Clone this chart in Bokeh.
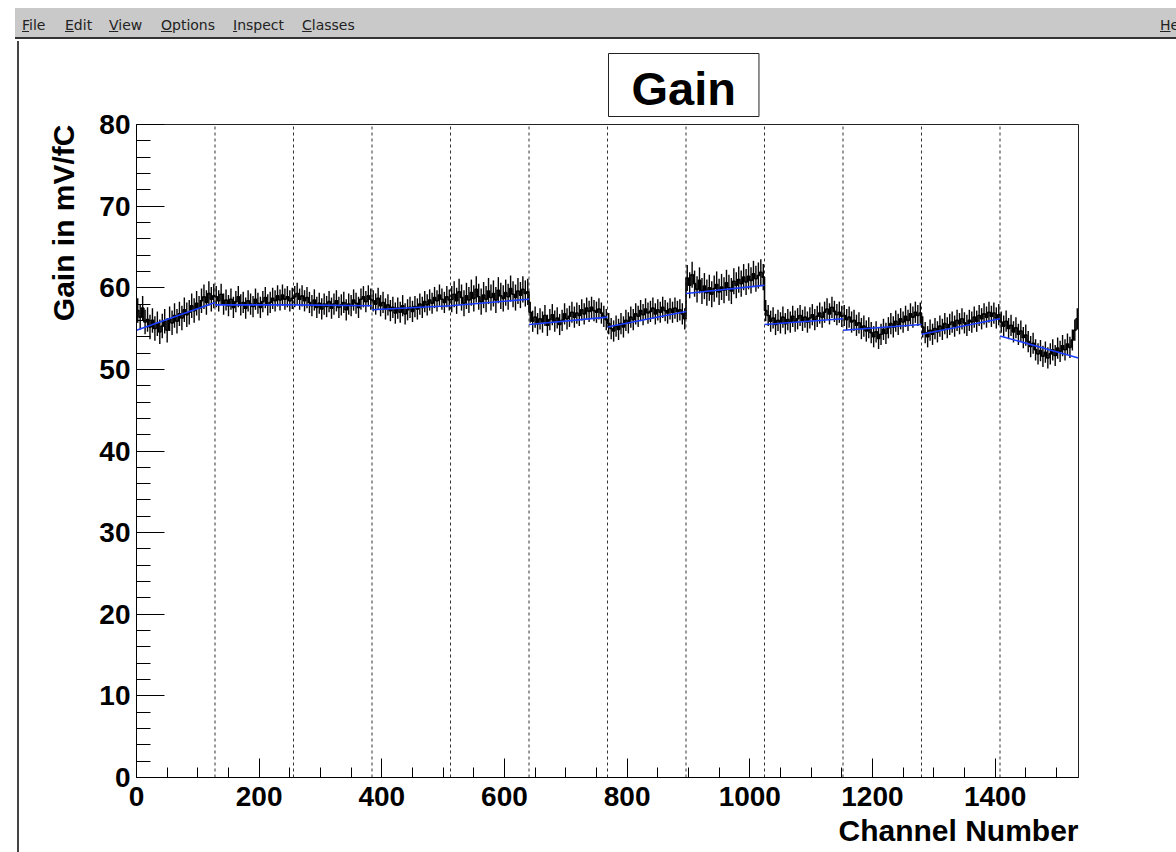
import numpy as np
from bokeh.plotting import figure
from bokeh.models import Range1d, FixedTicker, Title, Div
from bokeh.layouts import column, row
from bokeh.embed import file_html
from bokeh.resources import INLINE

# ---------------- data ----------------
channels_per_bin = 4
segment_edges = [0, 128, 256, 384, 512, 640, 768, 896, 1024, 1152, 1280, 1408, 1536]

seg01 = [57.2, 56.4, 57.5, 55.8, 56.1, 55.2, 56.0, 55.0, 55.6, 54.6, 55.3, 55.9, 54.8, 56.2, 55.7, 56.6,
         55.9, 56.8, 56.3, 57.3, 56.7, 57.0, 57.8, 57.2, 58.1, 57.5, 58.4, 58.9, 58.2, 59.3, 58.6, 59.0]
seg02 = [58.9, 58.4, 59.2, 58.0, 58.5, 57.8, 58.6, 57.6, 58.3, 58.9, 57.9, 58.2, 57.5, 58.4, 58.0, 57.7,
         58.6, 58.1, 57.6, 58.3, 58.8, 57.9, 58.2, 58.7, 58.4, 59.0, 58.5, 59.1, 58.6, 58.9, 58.4, 58.7]
seg03 = [58.9, 59.3, 58.6, 59.0, 58.4, 58.8, 58.2, 57.8, 58.5, 57.6, 58.1, 57.4, 58.0, 57.7, 58.3, 57.5,
         58.0, 58.4, 57.6, 57.9, 58.2, 57.3, 58.0, 57.8, 58.5, 58.1, 57.6, 58.6, 58.9, 58.3, 59.0, 58.6]
seg04 = [58.4, 58.0, 58.7, 57.8, 58.2, 57.4, 57.9, 57.2, 57.6, 56.9, 57.5, 57.0, 57.8, 56.8, 57.3, 57.6,
         57.1, 57.7, 57.4, 58.0, 57.6, 58.3, 57.9, 58.5, 58.1, 58.8, 58.4, 59.1, 58.6, 58.2, 58.9, 58.5]
seg05 = [58.6, 59.2, 58.4, 59.5, 58.8, 58.1, 59.0, 58.5, 59.4, 58.7, 59.8, 58.9, 58.3, 59.1, 58.6, 59.6,
         58.8, 59.3, 58.5, 59.7, 59.0, 58.7, 59.4, 58.9, 59.9, 59.2, 58.8, 59.6, 59.1, 59.8, 59.3, 59.5]
seg06 = [57.0, 55.9, 56.4, 55.6, 56.2, 55.8, 56.6, 55.4, 56.1, 56.7, 55.9, 56.3, 55.5, 56.0, 56.8, 56.2,
         56.5, 57.0, 56.4, 56.9, 56.6, 57.3, 56.8, 57.5, 57.1, 57.6, 57.2, 57.0, 57.4, 56.9, 56.5, 56.1]
seg07 = [55.6, 55.0, 54.7, 55.3, 54.9, 55.6, 55.2, 56.0, 55.7, 56.4, 56.1, 56.8, 56.5, 57.2, 56.7, 57.4,
         56.9, 57.1, 57.5, 56.8, 57.3, 57.0, 57.6, 57.2, 56.9, 57.4, 57.0, 57.5, 57.1, 57.3, 56.8, 56.2]
seg08 = [61.2, 60.3, 61.6, 60.5, 59.8, 60.9, 59.6, 60.2, 59.4, 60.0, 59.2, 59.9, 60.4, 59.5, 60.1, 59.7,
         60.6, 60.0, 59.6, 60.8, 60.3, 61.0, 60.5, 61.3, 60.7, 61.4, 60.9, 61.7, 61.1, 61.5, 61.9, 61.3]
seg09 = [57.2, 56.6, 55.9, 56.3, 55.5, 56.0, 55.7, 56.4, 55.6, 56.1, 55.8, 56.5, 55.9, 56.2, 56.6, 56.0,
         56.4, 55.8, 56.3, 56.7, 56.1, 56.5, 56.9, 56.4, 57.0, 57.4, 56.8, 57.6, 57.1, 56.7, 57.0, 56.5]
seg10 = [56.6, 56.1, 56.4, 55.8, 56.0, 55.4, 55.7, 55.0, 55.3, 54.7, 55.1, 54.5, 54.0, 54.6, 53.8, 54.3,
         54.9, 54.4, 55.1, 55.6, 55.2, 55.9, 55.5, 56.2, 55.8, 56.5, 56.0, 56.8, 56.4, 57.0, 56.6, 56.9]
seg11 = [55.2, 54.5, 54.0, 54.8, 54.3, 55.0, 54.6, 55.3, 54.9, 55.6, 55.1, 55.5, 55.8, 55.3, 56.0, 55.6,
         56.2, 55.7, 55.4, 56.0, 55.8, 56.4, 55.9, 56.6, 56.2, 56.8, 56.4, 57.0, 56.5, 56.9, 56.3, 56.7]
seg12 = [55.8, 55.3, 55.9, 55.0, 55.4, 54.6, 55.1, 54.3, 54.7, 53.9, 54.2, 53.4, 52.8, 53.2, 52.4, 51.9,
         52.3, 51.6, 52.1, 51.4, 51.9, 52.4, 51.7, 52.6, 52.2, 52.9, 52.4, 53.1, 52.7, 53.6, 54.8, 56.2]

segment_values = [seg01, seg02, seg03, seg04, seg05, seg06, seg07, seg08, seg09, seg10, seg11, seg12]
segment_errors = [1.5, 1.3, 1.3, 1.3, 1.6, 1.3, 1.3, 1.6, 1.3, 1.3, 1.3, 1.3]

fit_start = [54.8, 57.9, 57.9, 57.3, 57.8, 55.5, 55.2, 59.3, 55.5, 54.8, 54.3, 54.1]
fit_end   = [58.2, 57.9, 57.8, 57.8, 58.6, 56.4, 57.1, 60.3, 56.2, 55.5, 56.2, 51.4]

x_ticks = [0, 200, 400, 600, 800, 1000, 1200, 1400]
x_minor = list(range(0, 1551, 50))
y_ticks = [0, 10, 20, 30, 40, 50, 60, 70, 80]
y_minor = list(range(0, 81, 2))

# ---------------- derived arrays ----------------
gain = np.concatenate([np.array(s, dtype=float) for s in segment_values])
err = np.concatenate([np.full(len(s), e) for s, e in zip(segment_values, segment_errors)])
xc = np.arange(len(gain)) * channels_per_bin + channels_per_bin / 2.0

FONT = "Liberation Sans"

# ---------------- figure ----------------
p = figure(width=1157, height=811, x_range=Range1d(0, 1536), y_range=Range1d(0, 80),
           title="Gain", output_backend="svg", toolbar_location=None, margin=0,
           min_border_left=117, min_border_right=98, min_border_top=83, min_border_bottom=75)
p.grid.visible = False
p.background_fill_color = "white"
p.border_fill_color = "white"
p.outline_line_color = "#222222"
p.outline_line_width = 1

# title box
p.title.align = "left"
p.title.offset = 472
p.title.standoff = 16
p.title.text_font = FONT
p.title.text_font_style = "bold"
p.title.text_font_size = "47px"
p.title.text_color = "black"
p.title.border_line_color = "#222222"
p.title.border_line_width = 1
p.title.background_fill_color = "white"
p.title.padding = (23, 23, 8, 2)

for ax in (p.xaxis[0], p.yaxis[0]):
    ax.axis_line_color = "black"
    ax.axis_line_width = 1
    ax.major_tick_line_color = "black"
    ax.minor_tick_line_color = "black"
    ax.major_tick_out = 0
    ax.minor_tick_out = 0
    ax.major_label_text_font = FONT
    ax.major_label_text_font_style = "bold"
    ax.major_label_text_font_size = "28px"
    ax.major_label_text_color = "black"

p.xaxis[0].ticker = FixedTicker(ticks=x_ticks, minor_ticks=x_minor)
p.yaxis[0].ticker = FixedTicker(ticks=y_ticks, minor_ticks=y_minor)
p.xaxis[0].major_tick_in = 19
p.xaxis[0].minor_tick_in = 10
p.yaxis[0].major_tick_in = 28
p.yaxis[0].minor_tick_in = 14
p.xaxis[0].major_label_standoff = 9
p.yaxis[0].major_label_standoff = 6

# axis titles, aligned to the axis ends as ROOT does
p.add_layout(Title(text="Channel Number", align="right", standoff=7, text_font=FONT,
                   text_font_style="bold", text_font_size="30px", text_color="black"), "below")
p.add_layout(Title(text="Gain in mV/fC", align="right", standoff=33, text_font=FONT,
                   text_font_style="bold", text_font_size="30px", text_color="black"), "left")

# segment boundaries (dashed)
inner_edges = segment_edges[1:-1]
p.segment(x0=inner_edges, x1=inner_edges, y0=[0] * len(inner_edges), y1=[80] * len(inner_edges),
          line_color="#333333", line_width=1, line_dash="3 3")

# data: error bars + histogram
p.segment(x0=xc, x1=xc, y0=gain - err, y1=gain + err, line_color="black", line_width=1.4)
p.step(xc, gain, mode="center", line_color="black", line_width=1.6)

# linear fits per segment
p.segment(x0=segment_edges[:-1], x1=segment_edges[1:], y0=fit_start, y1=fit_end,
          line_color="#1a3cff", line_width=1.6)

# ---------------- menu bar and canvas border ----------------
def item(x, first, rest):
    return (f'<span style="position:absolute;left:{x}px;top:7px;white-space:nowrap;">'
            f'<u>{first}</u>{rest}</span>')

menu_html = (
    '<div style="position:relative;width:1176px;height:41px;background:white;'
    'font-family:\'DejaVu Sans\';font-size:14px;color:#222;">'
    '<div style="position:absolute;left:15px;top:8px;width:1161px;height:31px;background:#c9c9c9;'
    'border-bottom:2px solid #333;overflow:hidden;">'
    + item(7, "F", "ile") + item(50, "E", "dit") + item(94, "V", "iew")
    + item(146, "O", "ptions") + item(218, "I", "nspect") + item(287, "C", "lasses")
    + item(1145, "H", "elp")
    + '</div></div>'
)
menu = Div(text=menu_html, width=1176, height=41, margin=0, styles={"overflow": "hidden"})
left_border = Div(text="", width=19, height=811, margin=0,
                  styles={"border-right": "2px solid #444", "box-sizing": "border-box",
                          "background": "white"})

layout = column(menu, row(left_border, p, spacing=0, margin=0), spacing=0, margin=0)

open("out.html", "w").write(file_html(layout, INLINE))
